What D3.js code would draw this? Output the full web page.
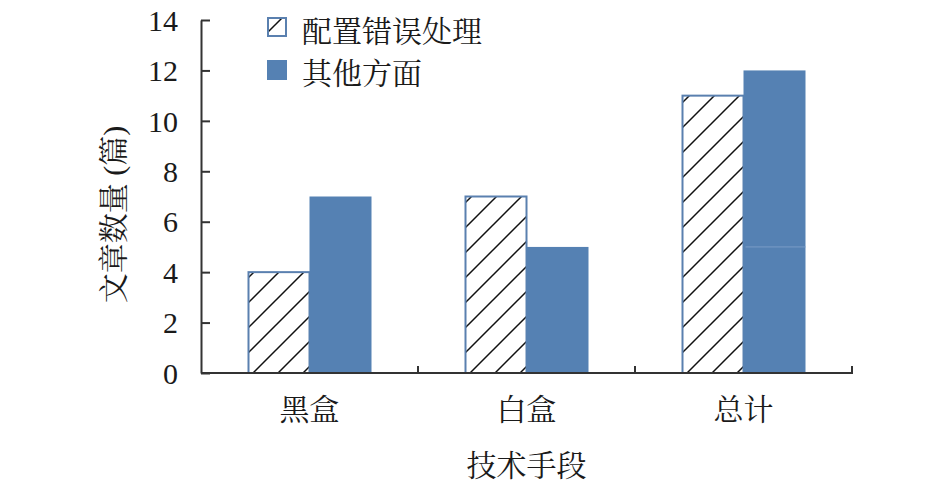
<!DOCTYPE html>
<html>
<head>
<meta charset="utf-8">
<script src="https://cdn.jsdelivr.net/npm/d3@7/dist/d3.min.js"></script>
<style>
  html, body { margin: 0; padding: 0; background: #fff; }
  svg { display: block; }
  text { fill: #1a1a1a; }
</style>
</head>
<body>
<script>
const categories = ['黑盒', '白盒', '总计'];
const seriesNames = ['配置错误处理', '其他方面'];
const configErrors = [4, 7, 11];
const otherAspects = [7, 5, 12];
const yTicks = [0, 2, 4, 6, 8, 10, 12, 14];
const xTitle = '技术手段';
const yTitle = '文章数量 (篇)';

(function () {
const W = 945, H = 482;
const serif = "'Liberation Serif', 'Times New Roman', serif";
const cjk = "'Liberation Serif', 'Noto Serif CJK SC', 'Noto Sans CJK SC', serif";
const blue = '#5581b3';
const edge = '#5a80af';
const axisColor = '#333';

const svg = d3.select('body').append('svg').attr('width', W).attr('height', H);

const defs = svg.append('defs');
const pat = defs.append('pattern')
  .attr('id', 'hatch').attr('patternUnits', 'userSpaceOnUse')
  .attr('width', 25).attr('height', 25);
pat.append('rect').attr('width', 25).attr('height', 25).attr('fill', '#fff');
pat.append('path').attr('d', 'M-5,30 L30,-5 M-5,5 L5,-5 M20,30 L30,20')
  .attr('stroke', '#111').attr('stroke-width', 1.5);

const pLeft = 201, pRight = 852, pTop = 20, pBottom = 373;

const y = d3.scaleLinear().domain([0, 14]).range([pBottom, pTop]);
const x0 = d3.scaleBand().domain(categories).range([pLeft, pRight]).padding(0);
const x1 = d3.scaleBand().domain(seriesNames).range([0, x0.bandwidth()])
  .paddingInner(0).paddingOuter(0.75);

const data = categories.map((c, i) => ({ cat: c, vals: [configErrors[i], otherAspects[i]] }));

const groups = svg.append('g').selectAll('g').data(data).join('g')
  .attr('transform', d => `translate(${x0(d.cat)},0)`);

groups.append('rect')
  .attr('x', x1(seriesNames[0]) + 1)
  .attr('y', d => y(d.vals[0]))
  .attr('width', x1.bandwidth() - 1)
  .attr('height', d => y(0) - y(d.vals[0]))
  .attr('fill', 'url(#hatch)')
  .attr('stroke', edge).attr('stroke-width', 2);

groups.append('rect')
  .attr('x', x1(seriesNames[1]))
  .attr('y', d => y(d.vals[1]))
  .attr('width', x1.bandwidth())
  .attr('height', d => y(0) - y(d.vals[1]))
  .attr('fill', blue);

svg.append('line')
  .attr('x1', x0('总计') + x1(seriesNames[1]) + 2)
  .attr('x2', x0('总计') + x1(seriesNames[1]) + x1.bandwidth())
  .attr('y1', y(otherAspects[1])).attr('y2', y(otherAspects[1]))
  .attr('stroke', '#7a9cc6').attr('stroke-width', 1);

const yAxis = svg.append('g').attr('transform', `translate(${pLeft},0)`)
  .call(d3.axisLeft(y).tickValues(yTicks).tickSizeInner(-9).tickSizeOuter(0).tickPadding(23));
yAxis.select('.domain').attr('stroke', axisColor).attr('stroke-width', 2);
yAxis.selectAll('.tick line').attr('stroke', axisColor).attr('stroke-width', 2);
yAxis.selectAll('.tick text').attr('font-family', serif).attr('font-size', 30)
  .attr('fill', '#1a1a1a').attr('dy', '0.34em');

const xAxis = svg.append('g').attr('transform', `translate(0,${pBottom})`)
  .call(d3.axisBottom(x0).tickSize(0).tickPadding(26));
xAxis.select('.domain').attr('stroke', axisColor).attr('stroke-width', 2)
  .attr('d', `M${pLeft},0H${pRight + 1}`);
xAxis.selectAll('.tick text').attr('font-family', cjk).attr('font-size', 30).attr('fill', '#1a1a1a');

svg.append('g').selectAll('line').data(categories).join('line')
  .attr('x1', d => x0(d) + x0.step()).attr('x2', d => x0(d) + x0.step())
  .attr('y1', pBottom).attr('y2', pBottom - 7)
  .attr('stroke', axisColor).attr('stroke-width', 2);

svg.append('text').attr('x', (pLeft + pRight) / 2).attr('y', 476)
  .attr('text-anchor', 'middle').attr('font-family', cjk).attr('font-size', 30)
  .text(xTitle);

svg.append('text').attr('transform', `translate(124,${(pTop + pBottom) / 2 + 18}) rotate(-90)`)
  .attr('text-anchor', 'middle').attr('font-family', cjk).attr('font-size', 30)
  .text(yTitle);

const legend = svg.append('g');
seriesNames.forEach((name, i) => {
  const ly = 18 + i * 42;
  if (i === 0) {
    legend.append('rect').attr('x', 268).attr('y', ly).attr('width', 18).attr('height', 18)
      .attr('fill', 'url(#hatch)').attr('stroke', edge).attr('stroke-width', 2);
  } else {
    legend.append('rect').attr('x', 267).attr('y', ly).attr('width', 20).attr('height', 20)
      .attr('fill', blue);
  }
  legend.append('text').attr('x', 302).attr('y', ly + 13).attr('dy', '0.35em')
    .attr('font-family', cjk).attr('font-size', 30).text(name);
});
})();
</script>
</body>
</html>
